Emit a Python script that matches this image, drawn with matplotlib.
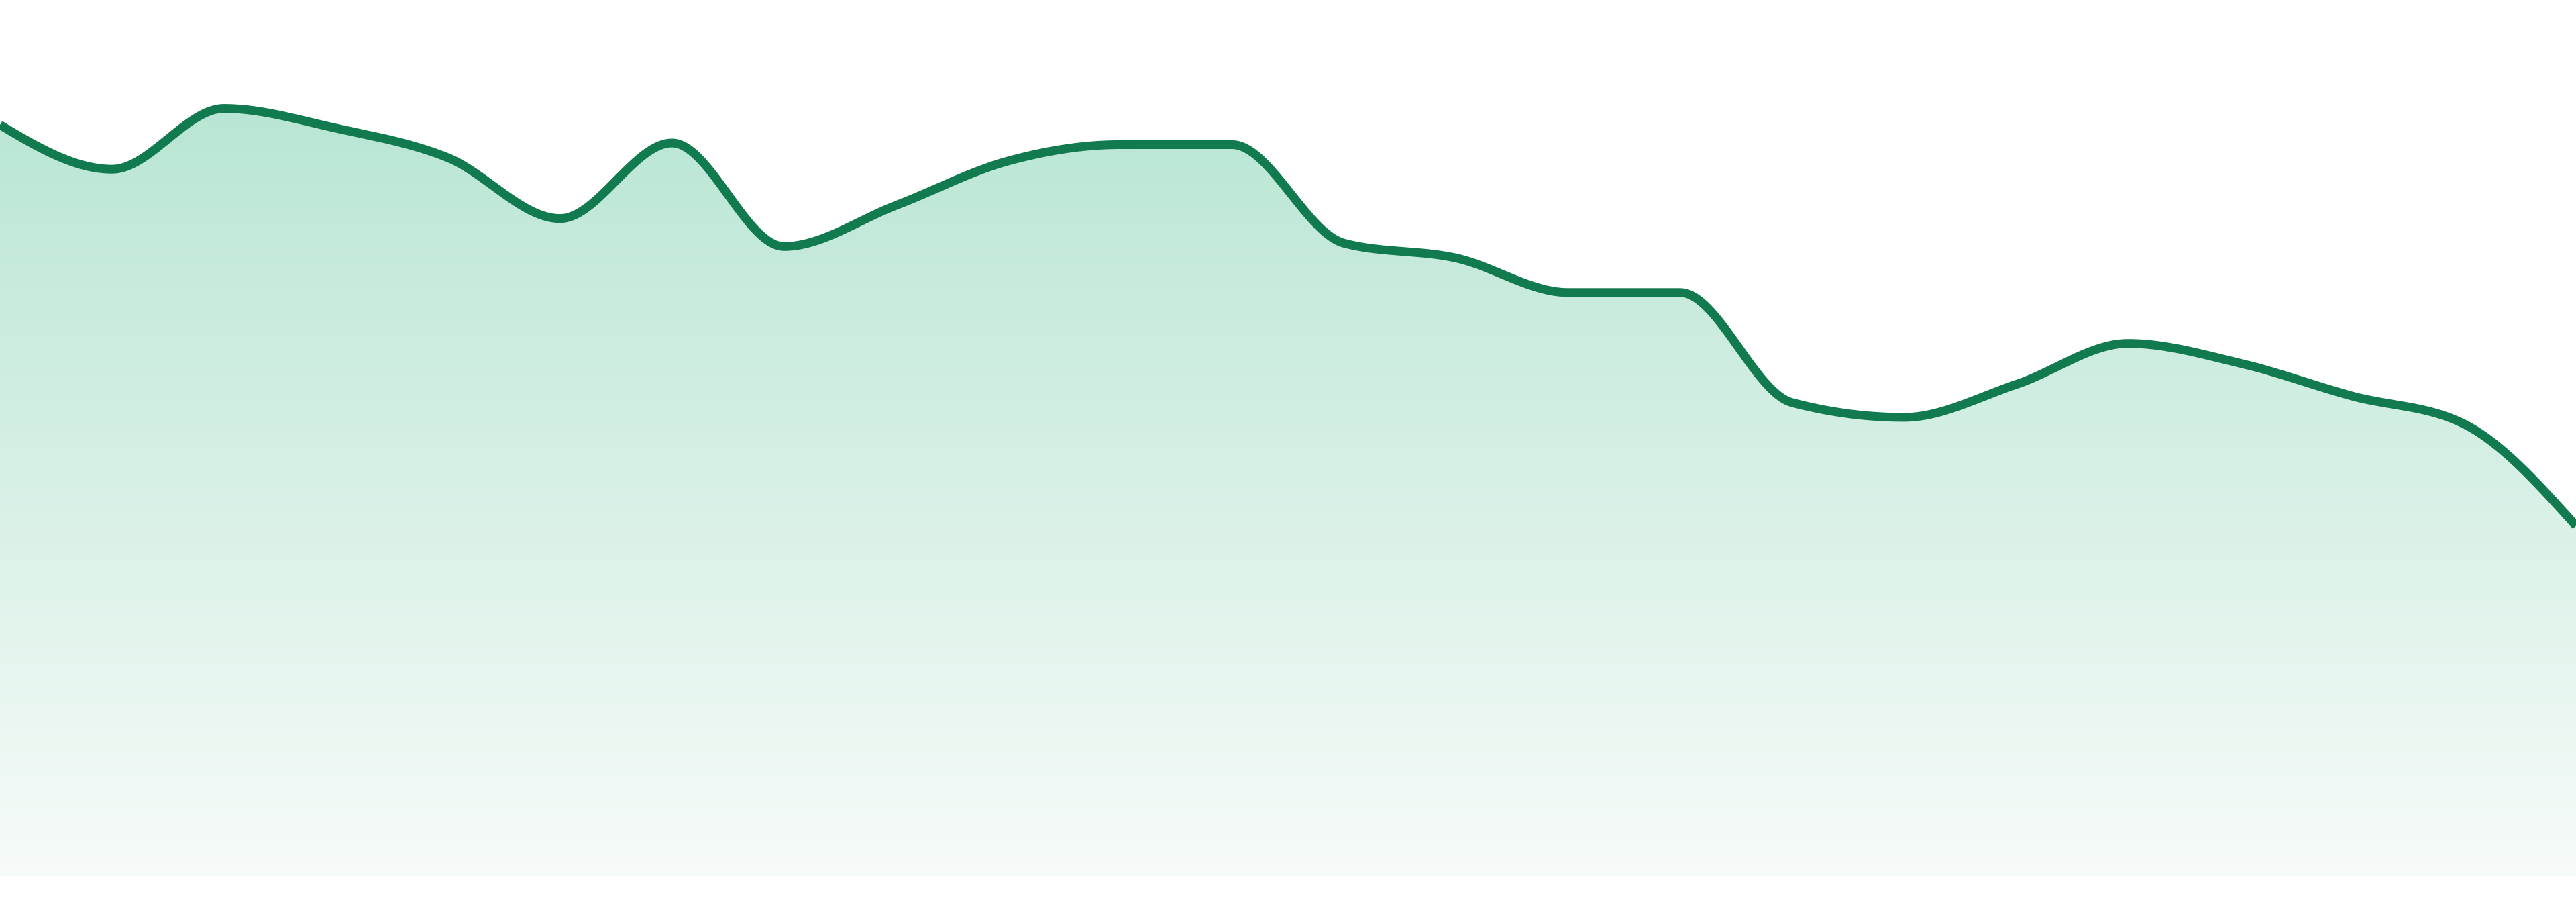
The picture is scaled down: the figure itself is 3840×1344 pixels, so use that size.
import numpy as np
import matplotlib
matplotlib.use("Agg")
import matplotlib.pyplot as plt
from matplotlib.colors import LinearSegmentedColormap

# ---- data (24 evenly spaced samples, arbitrary units) ----
x_index = list(range(24))
values = [457, 430, 467, 455, 437, 400, 446, 383, 408, 435, 445, 445,
          385, 376, 355, 355, 288, 279, 299, 324, 312, 292, 275, 213]

line_color = "#117a4f"
fill_top = "#b9e6d4"
fill_bottom = "#f7fbf9"


def monotone_x(x, y, n=40):
    """Monotone cubic (d3 curveMonotoneX style) rendering of the points."""
    x = np.asarray(x, float)
    y = np.asarray(y, float)
    h = np.diff(x)
    s = np.diff(y) / h
    m = np.zeros_like(y)
    for i in range(1, len(y) - 1):
        s0, s1 = s[i - 1], s[i]
        if s0 * s1 <= 0:
            m[i] = 0.0
        else:
            p = (s0 * h[i] + s1 * h[i - 1]) / (h[i - 1] + h[i])
            m[i] = (np.sign(s0) + np.sign(s1)) * min(abs(s0), abs(s1), 0.5 * abs(p))
    m[0] = (3 * s[0] - m[1]) / 2
    m[-1] = (3 * s[-1] - m[-2]) / 2
    xs, ys = [], []
    for i in range(len(x) - 1):
        t = np.linspace(0, 1, n, endpoint=(i == len(x) - 2))
        hh = h[i]
        h00 = 2 * t**3 - 3 * t**2 + 1
        h10 = t**3 - 2 * t**2 + t
        h01 = -2 * t**3 + 3 * t**2
        h11 = t**3 - t**2
        xs.append(x[i] + t * hh)
        ys.append(h00 * y[i] + h10 * hh * m[i] + h01 * y[i + 1] + h11 * hh * m[i + 1])
    return np.concatenate(xs), np.concatenate(ys)


W, H, DPI = 3840, 1344, 100
fig = plt.figure(figsize=(W / DPI, H / DPI), dpi=DPI)
fig.patch.set_facecolor("white")
bottom_frac = 39 / H
ax = fig.add_axes([0, bottom_frac, 1, 1 - bottom_frac])
ax.set_xlim(0, len(values) - 1)
ax.set_ylim(0, 533)
ax.axis("off")

xs, ys = monotone_x(x_index, values)

# gradient fill clipped to the area under the curve
poly = ax.fill_between(xs, ys, 0, facecolor="none", edgecolor="none")
cmap = LinearSegmentedColormap.from_list("g", [fill_bottom, fill_top])
grad = np.linspace(0, 1, 512).reshape(-1, 1)
img = ax.imshow(grad, cmap=cmap, origin="lower", aspect="auto",
                extent=[0, len(values) - 1, 0, max(values)], zorder=1,
                interpolation="bilinear")
path = poly.get_paths()[0]
img.set_clip_path(path, transform=ax.transData)

ax.plot(xs, ys, color=line_color, linewidth=9.4, solid_capstyle="butt",
        solid_joinstyle="round", zorder=3, clip_on=False)

fig.savefig("out.png", dpi=DPI, facecolor="white")
